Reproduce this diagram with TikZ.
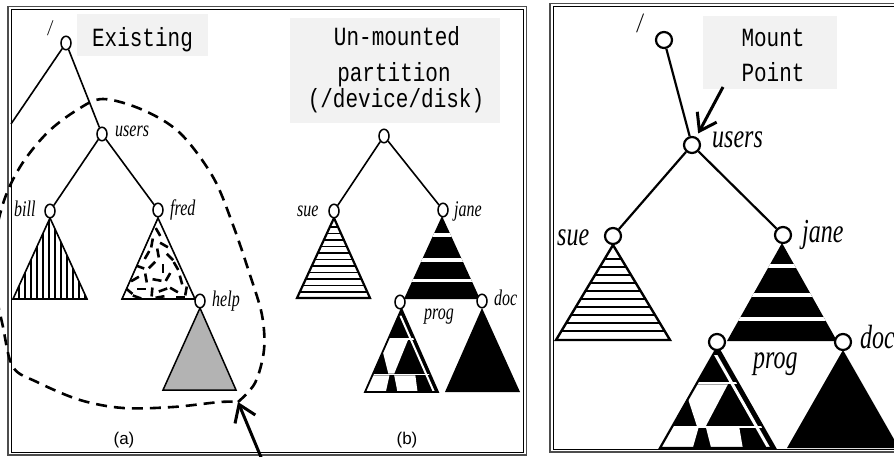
\documentclass[tikz,border=0pt]{standalone}
\usepackage{fontspec}
\usepackage{graphicx}
\usetikzlibrary{shapes.geometric,arrows.meta}
\newfontfamily\notefont{Liberation Mono}
\newfontfamily\capfont{Liberation Sans}
\newfontfamily\labelfont{Liberation Serif}
\definecolor{notegray}{HTML}{F2F2F2}
\definecolor{helpgray}{HTML}{B3B3B3}
\definecolor{framegray}{HTML}{4D4D4D}

% tall, narrow lettering used by the directory names and the notes
\newcommand{\tallname}[1]{\scalebox{1}[1.4]{#1}}
\newcommand{\tallnote}[1]{\scalebox{1}[1.25]{#1}}

% Checkered subtree in a unit frame: apex (0,0), base from (-1,1) to (1,1)
\newcommand{\ProgSubtree}[1]{%
  \fill[black] (0,0) -- (1,1) -- (-1,1) -- cycle;
  \begin{scope}
    \clip (0,0) -- (1,1) -- (-1,1) -- cycle;
    \fill[white] (-1,0.35) rectangle (1,0.37);
    \fill[white] (-1,0.78) rectangle (1,0.80);
    \fill[white] (-0.40,0.37) -- (0.18,0.37) -- (-0.20,0.78) -- (-0.36,0.78)
                 -- (-0.52,0.50) -- cycle;
    \fill[white] (-0.79,0.80) -- (-0.33,0.80) -- (-0.43,1) -- (-1,1) -- cycle;
    \fill[white] (-0.20,0.80) -- (0.38,0.80) -- (0.44,1) -- (-0.11,1) -- cycle;
    \fill[white] (-0.06,0.08) -- (0,0.08) -- (0.92,1) -- (0.86,1) -- cycle;
  \end{scope}
  \draw[line width=#1, line join=miter] (0,0) -- (1,1) -- (-1,1) -- cycle;
}
% Black subtree with white horizontal bands, same unit frame
\newcommand{\JaneSubtree}{%
  \fill[black] (0,0) -- (1,1) -- (-1,1) -- cycle;
  \begin{scope}
    \clip (0,0) -- (1,1) -- (-1,1) -- cycle;
    \fill[white] (-1,0.21) rectangle (1,0.25);
    \fill[white] (-1,0.51) rectangle (1,0.55);
    \fill[white] (-1,0.755) rectangle (1,0.795);
  \end{scope}
}

\tikzset{
  vsmall/.style={ellipse, draw, line width=1.5pt, fill=white,
    minimum width=10pt, minimum height=13.5pt, inner sep=0pt},
  vbig/.style={circle, draw, line width=2.2pt, fill=white,
    minimum size=16pt, inner sep=0pt},
  edgeS/.style={line width=1.6pt},
  edgeL/.style={line width=2.2pt},
  lblS/.style={font=\labelfont\fontsize{16}{18}\selectfont\itshape, inner sep=0pt, anchor=base west},
  lblL/.style={font=\labelfont\fontsize{24}{26}\selectfont\itshape, inner sep=0pt, anchor=base west},
  note/.style={fill=notegray, inner sep=0pt},
  notetext/.style={font=\notefont\fontsize{21}{24}\selectfont, inner sep=0pt, anchor=base},
  caption/.style={font=\capfont\fontsize{17}{19}\selectfont, inner sep=0pt},
  outline/.style={line width=#1, line join=miter},
  pointer/.style={line width=3pt, -{Straight Barb[length=16pt,width=22pt]}},
  loopline/.style={line width=2.6pt, dash pattern=on 11pt off 7pt},
  frameout/.style={line width=1.5pt, draw=framegray},
  framein/.style={line width=1pt, draw=black}
}

\begin{document}
\begin{tikzpicture}[x=1pt,y=-1pt]
\useasboundingbox (0,0) rectangle (894,457);

% ---------- note boxes ----------
\node[note, minimum width=131pt, minimum height=42pt] (existbox) at (142.5,35) {};
\node[notetext] (existtxt) at (142.5,47) {\tallnote{Existing}};
\node[note, minimum width=210pt, minimum height=105pt] (diskbox) at (395,70.5) {};
\node[notetext] (disk1) at (397,46) {\tallnote{Un-mounted}};
\node[notetext] (disk2) at (394,82) {\tallnote{partition}};
\node[notetext] (disk3) at (396,108) {\tallnote{(/device/disk)}};
\node[note, minimum width=134pt, minimum height=73pt] (mountbox) at (770,52.5) {};
\node[notetext] (mount1) at (773,47) {\tallnote{Mount}};
\node[notetext] (mount2) at (773,82) {\tallnote{Point}};

% ---------- (a) subtrees ----------
\begin{scope}
  \clip (50,218) -- (87,299) -- (13,299) -- cycle;
  \foreach \lx in {19,25,...,85} \draw[line width=1.3pt] (\lx,214) -- (\lx,300);
\end{scope}
\draw[outline=1.6pt] (50,218) -- (87,299) -- (13,299) -- cycle;

\fill[white] (158,218) -- (195,299) -- (122,299) -- cycle;
\begin{scope}
  \clip (158,218) -- (195,299) -- (122,299) -- cycle;
  \foreach \px/\py/\pa in {158/232/60, 152/243/100, 164/245/30, 147/255/120,
      158/253/80, 170/257/45, 140/267/20, 152/265/135, 163/268/90, 176/266/60,
      135/279/150, 146/278/80, 157/280/10, 168/277/120, 181/280/75,
      129/291/40, 141/289/0, 152/292/95, 163/290/160, 174/290/30, 186/291/100,
      137/297/20, 160/297/170, 180/297/0}
    \draw[line width=2.6pt] (\px,\py) ++(\pa:4.5) -- ++(\pa+180:9);
\end{scope}
\draw[outline=1.6pt] (158,218) -- (195,299) -- (122,299) -- cycle;

\draw[outline=1.5pt, fill=helpgray] (200,308) -- (236,390) -- (163,390) -- cycle;

% ---------- (b) subtrees ----------
\begin{scope}
  \clip (334,218) -- (370,298) -- (297,298) -- cycle;
  \foreach \ly in {227,233.5,...,292} \draw[line width=1.6pt] (290,\ly) -- (380,\ly);
\end{scope}
\draw[outline=2.2pt] (334,218) -- (370,298) -- (297,298) -- cycle;

\begin{scope}[shift={(442,216)}, xscale=38, yscale=83]
  \JaneSubtree
\end{scope}
\begin{scope}[shift={(401.5,309)}, xscale=36.5, yscale=83]
  \ProgSubtree{1.8pt}
\end{scope}
\fill[black] (482,308) -- (520,392) -- (445,392) -- cycle;

% ---------- right-hand subtrees ----------
\begin{scope}
  \clip (613,245) -- (670,340) -- (556,340) -- cycle;
  \foreach \ly in {259,267,...,331} \draw[line width=2pt] (550,\ly) -- (680,\ly);
\end{scope}
\draw[outline=2.4pt] (613,245) -- (670,340) -- (556,340) -- cycle;

\begin{scope}[shift={(782,243)}, xscale=55, yscale=98]
  \JaneSubtree
\end{scope}
\begin{scope}[shift={(717.5,347)}, xscale=57.5, yscale=101]
  \ProgSubtree{2.2pt}
\end{scope}
\fill[black] (843,350) -- (899,448) -- (787,448) -- cycle;

% ---------- frames ----------
\draw[frameout] (8,6.5) rectangle (526.5,455);
\draw[framein] (11,9.5) rectangle (523.5,452);
\draw[frameout] (550,3.5) rectangle (900,452);
\draw[framein] (553,6.5) rectangle (897,449);

% ---------- (a) tree ----------
\node[vsmall] (rootA) at (66,43) {};
\node[vsmall] (usersA) at (102,134) {};
\node[vsmall] (billA) at (50,211) {};
\node[vsmall] (fredA) at (158,210) {};
\node[vsmall] (helpA) at (200,301) {};
\coordinate (offA) at (11,124);
\draw[edgeS] (rootA) -- (offA);
\draw[edgeS] (rootA) -- (usersA);
\draw[edgeS] (usersA) -- (billA);
\draw[edgeS] (usersA) -- (fredA);
\node[lblS, anchor=center] (slashA) at (50,28) {\tallname{/}};
\node[lblS] (usersAl) at (115,137) {\tallname{users}};
\node[lblS] (billAl) at (14,216.5) {\tallname{bill}};
\node[lblS] (fredAl) at (170,216) {\tallname{fred}};
\node[lblS] (helpAl) at (212,306) {\tallname{help}};

% ---------- (b) tree ----------
\node[vsmall] (rootB) at (384,136) {};
\node[vsmall] (sueB) at (334,211) {};
\node[vsmall] (janeB) at (443,210) {};
\node[vsmall] (progB) at (400,302) {};
\node[vsmall] (docB) at (482,301) {};
\draw[edgeS] (rootB) -- (sueB);
\draw[edgeS] (rootB) -- (janeB);
\node[lblS] (sueBl) at (297,216.5) {\tallname{sue}};
\node[lblS] (janeBl) at (454,216.5) {\tallname{jane}};
\node[lblS] (progBl) at (424,319) {\tallname{prog}};
\node[lblS] (docBl) at (494,305) {\tallname{doc}};

% ---------- mounted tree ----------
\node[vbig] (rootC) at (664,40) {};
\node[vbig] (usersC) at (692,145) {};
\node[vbig] (sueC) at (613,236) {};
\node[vbig] (janeC) at (783,235) {};
\node[vbig] (progC) at (717,342) {};
\node[vbig] (docC) at (843,342) {};
\draw[edgeL] (rootC) -- (usersC);
\draw[edgeL] (usersC) -- (sueC);
\draw[edgeL] (usersC) -- (janeC);
\node[lblL, anchor=center, font=\labelfont\fontsize{20}{22}\selectfont\itshape] (slashC) at (640,23) {\tallname{/}};
\node[lblL] (usersCl) at (712,148) {\tallname{users}};
\node[lblL] (sueCl) at (557,245) {\tallname{sue}};
\node[lblL] (janeCl) at (802,242) {\tallname{jane}};
\node[lblL] (progCl) at (753,368) {\tallname{prog}};
\node[lblL] (docCl) at (860,348) {\tallname{doc}};

% ---------- dashed boundary and pointers ----------
\coordinate (loopend) at (238,402);
\draw[loopline] plot[smooth, tension=0.55] coordinates {(238,402) (255,383) (264,350)
  (262,315) (250,275) (233,225) (213,177) (180,133) (143,110) (103,99) (77,110)
  (47,133) (20,167) (2,207) (-8,265) (3,327) (13,367) (37,382) (80,400) (123,408)
  (173,407) (220,402) (238,402)};
\coordinate (tailA) at (263,462);
\draw[pointer] (tailA) -- (loopend);
\coordinate (mountTail) at (723,87);
\draw[pointer, shorten >=4pt] (mountTail) -- (usersC);

% ---------- captions ----------
\node[caption] (capA) at (124,440) {(a)};
\node[caption] (capB) at (407,440) {(b)};
\end{tikzpicture}
\end{document}
